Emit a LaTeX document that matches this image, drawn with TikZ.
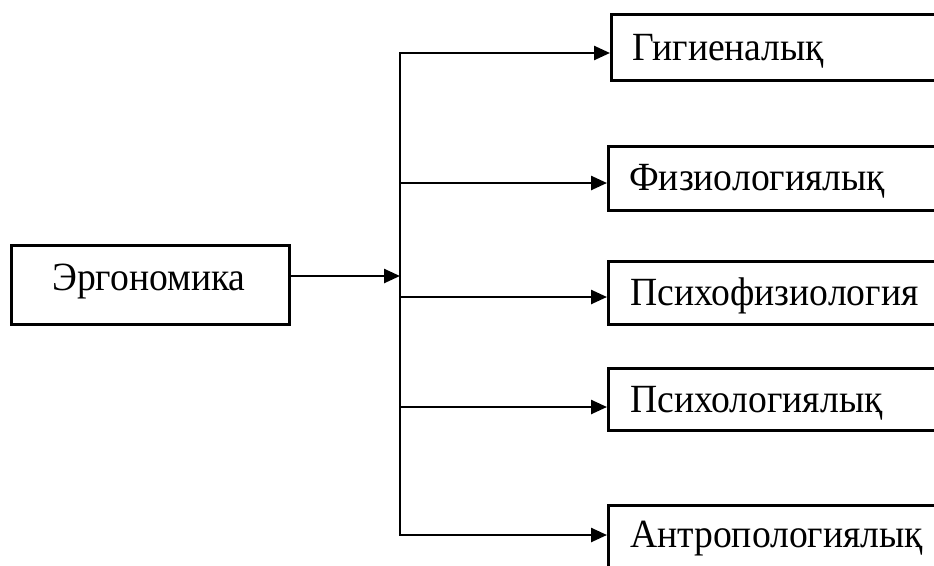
\documentclass[tikz,border=0pt]{standalone}
\usepackage{fontspec}
\setmainfont[FakeStretch=0.94]{Liberation Serif}
\usetikzlibrary{arrows.meta}
\begin{document}
\begin{tikzpicture}[x=1pt,y=-1pt,
  box/.style={draw, line width=2.5pt, rectangle, anchor=north west, inner sep=0pt},
  lbl/.style={anchor=base west, inner sep=0pt, font=\fontsize{40}{46}\selectfont},
  conn/.style={line width=2.5pt},
  arr/.style={line width=2.5pt, -{Triangle[length=16pt,width=14pt]}}]
\clip (0,0) rectangle (934,565);
\fill[white] (0,0) rectangle (934,565);
% main box
\node[box, minimum width=278pt, minimum height=79pt] (e) at (10,244) {};
\node[lbl] (et) at (52,290) {Эргономика};
% right boxes
\node[box, minimum width=360pt, minimum height=66pt] (g) at (610,13) {};
\node[lbl] (gt) at (632,60) {Гигиеналық};
\node[box, minimum width=360pt, minimum height=64pt] (f) at (607,145) {};
\node[lbl] (ft) at (629,190) {Физиологиялық};
\node[box, minimum width=360pt, minimum height=63pt] (pf) at (607,260) {};
\node[lbl] (pft) at (630,305) {Психофизиология};
\node[box, minimum width=360pt, minimum height=62pt] (p) at (607,367) {};
\node[lbl] (pt) at (630,412) {Психологиялық};
\node[box, minimum width=360pt, minimum height=100pt] (a) at (607,504) {};
\node[lbl] (at) at (630,547) {Антропологиялық};
% trunk
\coordinate (t1) at (400,53);
\coordinate (t2) at (400,183);
\coordinate (tm) at (400,276);
\coordinate (t3) at (400,297);
\coordinate (t4) at (400,407);
\coordinate (t5) at (400,535);
\draw[conn, line cap=rect] (t1) -- (t5);
\draw[arr] (e.east |- tm) -- (tm);
\draw[arr] (t1) -- (t1 -| g.west);
\draw[arr] (t2) -- (t2 -| f.west);
\draw[arr] (t3) -- (t3 -| pf.west);
\draw[arr] (t4) -- (t4 -| p.west);
\draw[arr] (t5) -- (t5 -| a.west);
\end{tikzpicture}
\end{document}
